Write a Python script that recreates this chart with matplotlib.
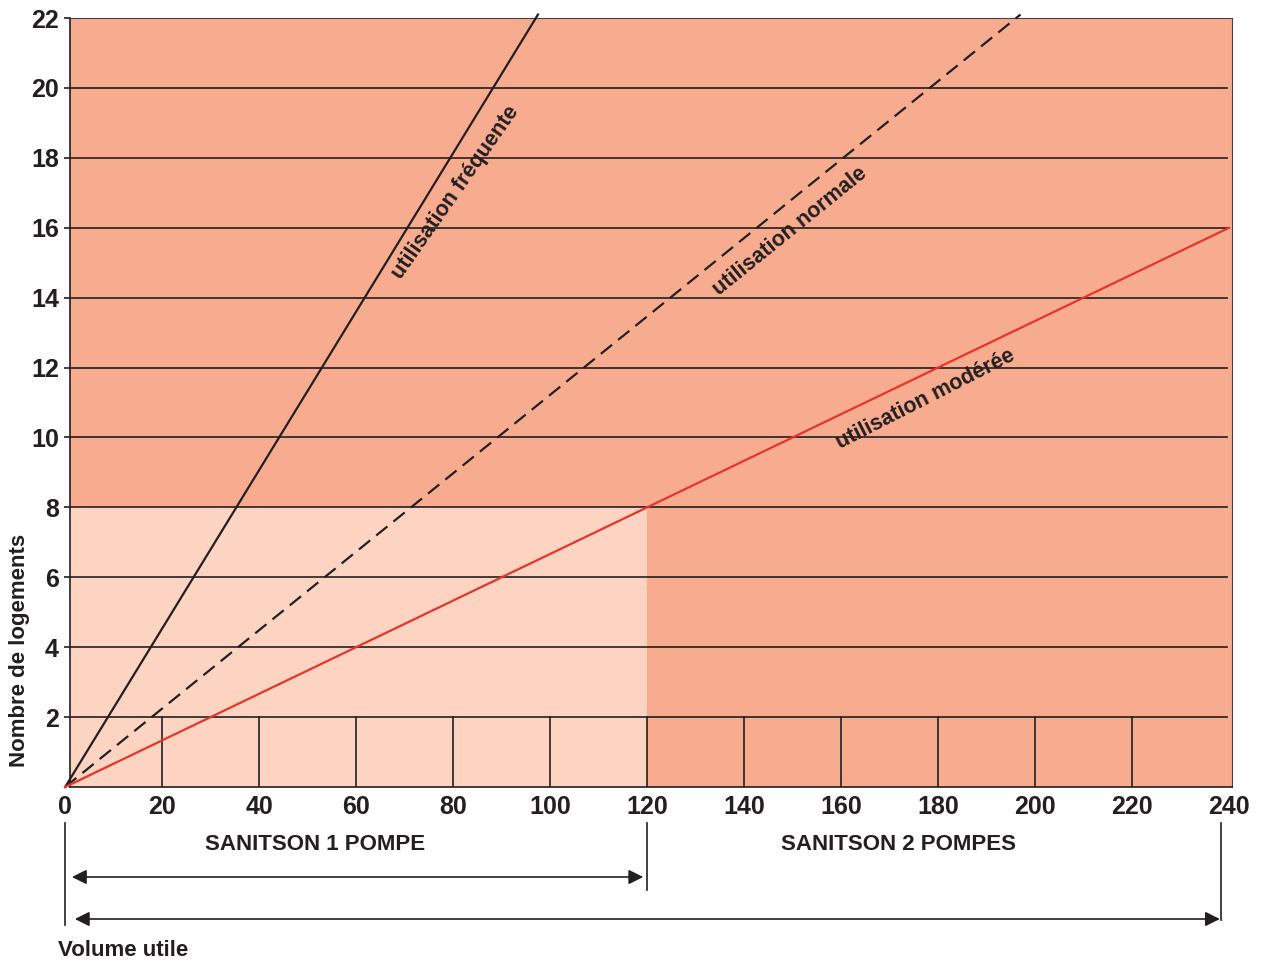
import numpy as np
import matplotlib
matplotlib.use('Agg')
import matplotlib.pyplot as plt
from matplotlib.patches import Rectangle
from matplotlib.transforms import blended_transform_factory

plt.rcParams['font.family'] = ['Liberation Sans', 'DejaVu Sans']
plt.rcParams['font.weight'] = 'bold'

# axis ticks
x_ticks = list(range(0, 241, 20))
y_ticks = list(range(2, 23, 2))

# usage lines (volume, logements)
frequent_x = [0, 97.5]
frequent_y = [0, 22.1]
normal_x = [0, 197]
normal_y = [0, 22.1]
moderate_x = [0, 240]
moderate_y = [0, 16]

# one pump zone
one_pump_volume = 120
one_pump_logements = 8

labels = ['utilisation fréquente', 'utilisation normale', 'utilisation modérée']
label_pos = [(80.5, 17.0), (149.5, 15.9), (177.5, 11.1)]
label_rot = [55, 39, 27]

dark = '#F8AC8F'
light = '#FCD4C1'
ink = '#231F20'
red = '#E8352B'

fig = plt.figure(figsize=(12.62, 9.61), dpi=100)
ax = fig.add_axes([70 / 1262, 1 - 787 / 961, (1232 - 70) / 1262, (787 - 18) / 961])
ax.set_facecolor(dark)

ax.add_patch(Rectangle((0, 0), one_pump_volume, one_pump_logements,
                       facecolor=light, edgecolor='none', zorder=0.5))

# horizontal lines and small vertical ticks at the bottom
for y in y_ticks[:-1]:
    ax.plot([0, 239.5], [y, y], color=ink, lw=1.2, zorder=1)
for x in x_ticks[1:-1]:
    ax.plot([x, x], [0, 2], color=ink, lw=1.2, zorder=1)

ax.plot(frequent_x, frequent_y, color=ink, lw=1.6, clip_on=False, zorder=3)
ax.plot(normal_x, normal_y, color=ink, lw=1.6, dashes=(6.5, 3.5), clip_on=False, zorder=3)
ax.plot(moderate_x, moderate_y, color=red, lw=1.6, clip_on=False, zorder=3)

for txt, (lx, ly), rot in zip(labels, label_pos, label_rot):
    ax.text(lx, ly, txt, rotation=rot, ha='center', va='center',
            fontsize=15.5, fontweight='bold', color=ink, rotation_mode='anchor')

ax.set_xticks(x_ticks)
ax.set_yticks(y_ticks)
ax.set_xlim(1, 240.6)
ax.set_ylim(0, 22)
ax.tick_params(axis='x', length=0, pad=6, labelsize=18, colors=ink)
ax.tick_params(axis='y', length=4, width=1.2, pad=4, labelsize=18, colors=ink)
for lab in ax.get_xticklabels() + ax.get_yticklabels():
    lab.set_fontweight('bold')

# the origin label sits just left of the frame, so add it by hand
ax.annotate(str(x_ticks[0]), xy=(x_ticks[0], 0), xycoords=('data', 'axes fraction'),
            xytext=(0, -6), textcoords='offset points', ha='center', va='top',
            fontsize=18, fontweight='bold', color=ink, annotation_clip=False)

for side in ['left', 'bottom']:
    ax.spines[side].set_color(ink)
    ax.spines[side].set_linewidth(1.2)
for side in ['top', 'right']:
    ax.spines[side].set_color('#444444')
    ax.spines[side].set_linewidth(0.8)

fig.text(20 / 1262, 1 - 650 / 961, 'Nombre de logements', rotation=90,
         ha='center', va='center', fontsize=16, fontweight='bold', color=ink)

# annotations below the chart: x in data units, y in figure fraction
tr = blended_transform_factory(ax.transData, fig.transFigure)

def fy(px):
    return 1 - px / 961

ax.plot([0, 0], [fy(823), fy(925)], color=ink, lw=1.2, transform=tr, clip_on=False)
ax.plot([one_pump_volume, one_pump_volume], [fy(823), fy(890)], color=ink, lw=1.2,
        transform=tr, clip_on=False)
ax.plot([238.3, 238.3], [fy(823), fy(920)], color=ink, lw=1.2, transform=tr, clip_on=False)

arrow = dict(arrowstyle='<|-|>', color=ink, lw=1.2, mutation_scale=22, shrinkA=0, shrinkB=0)
ax.annotate('', xy=(one_pump_volume - 0.8, fy(877)), xytext=(1.4, fy(877)),
            xycoords=tr, textcoords=tr, arrowprops=arrow)
ax.annotate('', xy=(238.1, fy(919)), xytext=(2, fy(919)),
            xycoords=tr, textcoords=tr, arrowprops=arrow)

ax.text(51.5, fy(845), 'SANITSON 1 POMPE', transform=tr, ha='center', va='center',
        fontsize=16, fontweight='bold', color=ink)
ax.text(171.8, fy(845), 'SANITSON 2 POMPES', transform=tr, ha='center', va='center',
        fontsize=16, fontweight='bold', color=ink)
fig.text(58 / 1262, fy(950), 'Volume utile', ha='left', va='center',
         fontsize=16, fontweight='bold', color=ink)

# keep the view fixed after all drawing calls
ax.set_xlim(1, 240.6)
ax.set_ylim(0, 22)

fig.savefig('out.png', dpi=100)
